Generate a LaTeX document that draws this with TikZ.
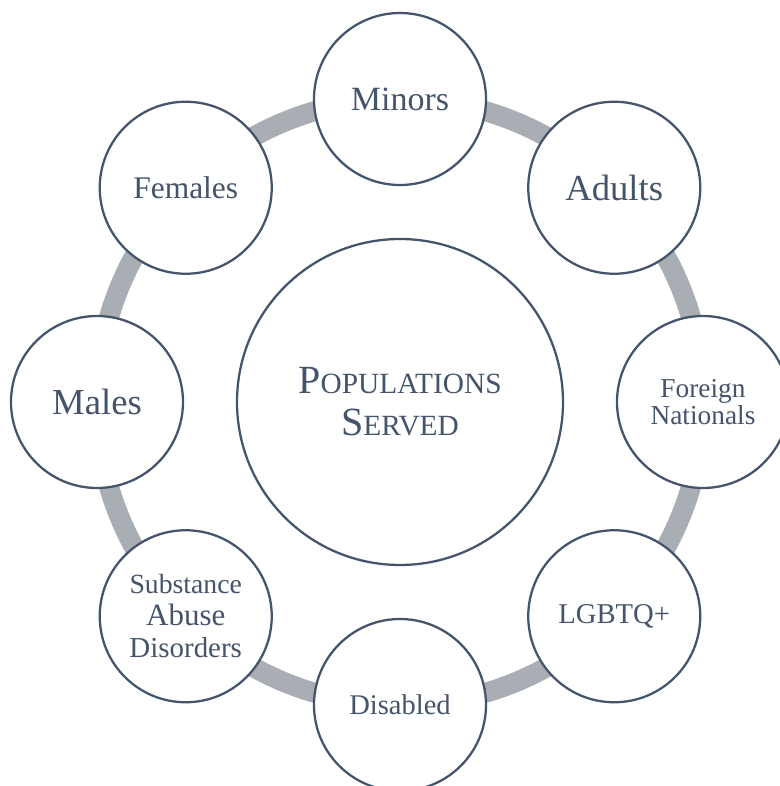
\documentclass[tikz,border=0pt]{standalone}
\usepackage{fontspec}
\setmainfont{Liberation Serif}
\usepackage{tikz}
\definecolor{slate}{HTML}{44546A}
\definecolor{ringgray}{HTML}{A9ADB4}

\begin{document}
\begin{tikzpicture}[x=0.75pt,y=0.75pt,
  group/.style={circle,draw=slate,line width=1.7pt,fill=white,text=slate,
    minimum size=129pt,inner sep=0pt,align=center},
  hub/.style={group,minimum size=244.5pt},
  ring/.style={draw=ringgray,line width=15pt}]
  \useasboundingbox (-400,-384) rectangle (380,402);
  \coordinate (c) at (0,0);
  \draw [ring] (c) circle [radius=227.25pt];
  \node [hub,font=\fontsize{22pt}{31.5pt}\selectfont] (served) at (c)
    {{\fontsize{30pt}{31.5pt}\selectfont P}OPULATIONS\\{\fontsize{30pt}{31.5pt}\selectfont S}ERVED};
  \node [group,font=\fontsize{25.5pt}{30pt}\selectfont] (minors) at (90:303) {Minors};
  \node [group,font=\fontsize{27.5pt}{30pt}\selectfont] (adults) at (45:303) {Adults};
  \node [group,font=\fontsize{20.5pt}{20pt}\selectfont] (foreign) at (0:303) {Foreign\\Nationals};
  \node [group,font=\fontsize{21.5pt}{24pt}\selectfont] (lgbtq) at (-45:303) {LGBTQ+};
  \node [group,font=\fontsize{21.4pt}{24pt}\selectfont] (disabled) at (-90:303) {Disabled};
  \node [group,font=\fontsize{20.8pt}{24pt}\selectfont] (substance) at (-135:303)
    {Substance\\{\fontsize{23.25pt}{24pt}\selectfont Abuse}\\{\fontsize{21.7pt}{24pt}\selectfont Disorders}};
  \node [group,font=\fontsize{27.5pt}{30pt}\selectfont] (males) at (180:303) {Males};
  \node [group,font=\fontsize{23.6pt}{30pt}\selectfont] (females) at (135:303) {Females};
\end{tikzpicture}
\end{document}
